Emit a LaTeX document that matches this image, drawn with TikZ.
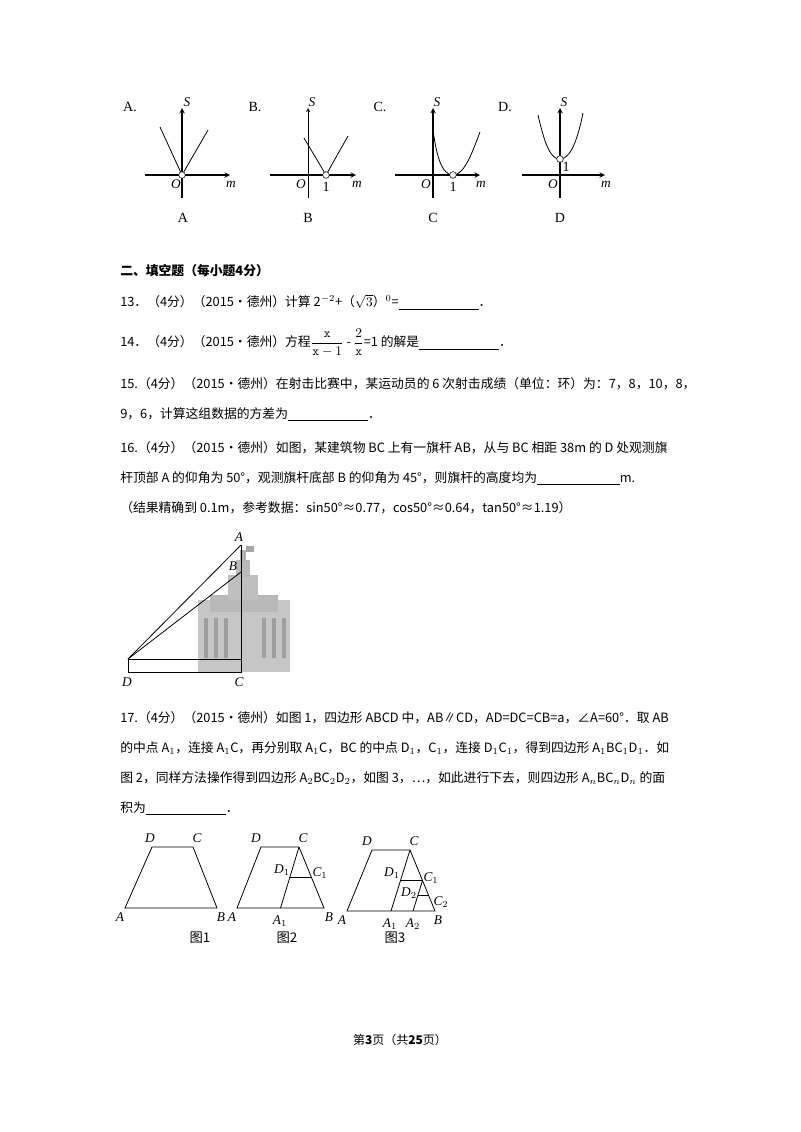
\documentclass[tikz,border=0pt]{standalone}
\usepackage{fontspec}
\setmainfont{Noto Sans CJK SC}
\newfontfamily\ser{Liberation Serif}
\usetikzlibrary{calc}
\tikzset{ax/.style={thick,-stealth},crv/.style={semithick},
 txt/.style={anchor=west,inner sep=0pt,font=\fontsize{9.6}{12}\selectfont},
 lab/.style={inner sep=1pt,font=\ser\itshape\fontsize{10}{12}\selectfont},
 opt/.style={inner sep=0pt,font=\ser\fontsize{10.5}{12}\selectfont},
 figcap/.style={inner sep=0pt,font=\fontsize{10}{12}\selectfont},
 geo/.style={semithick},
 dot/.style={circle,draw,fill=white,inner sep=0pt,minimum size=5pt}}
\newcommand{\blank}[1]{\rule[-2pt]{#1}{0.5pt}}
\begin{document}
\begin{tikzpicture}[x=0.75pt,y=-0.75pt]
\useasboundingbox (0,0) rectangle (800,1132);
% ---- option graphs
\node[opt] (la) at (130,107) {A.};
\node[opt] (lb) at (255,107) {B.};
\node[opt] (lc) at (380,107) {C.};
\node[opt] (ld) at (505,107) {D.};
% A
\draw[ax] (145,175)--(230,175); \draw[ax] (182,198)--(182,108);
\draw[crv] (160,127)--(182,175)--(208,130);
\node[dot] (pa) at (182,175) {};
\node[lab] at (187,102) {S}; \node[lab] at (176,184) {O}; \node[lab] at (231,184) {m};
\node[opt] at (183,218) {A};
% B
\draw[ax] (270,175)--(356,175); \draw[thin,-stealth] (308,198)--(308,108);
\draw[crv] (304,138)--(326,175)--(348,136);
\node[dot] (pb) at (326,175) {};
\node[lab] at (312,102) {S}; \node[lab] at (301,184) {O}; \node[lab] at (357,184) {m};
\node[opt] at (326,187) {1};
\node[opt] at (308,218) {B};
% C
\draw[ax] (395,175)--(480,175); \draw[ax] (433,198)--(433,108);
\draw[crv] (433,130) .. controls (437,160) and (443,175) .. (453,175) .. controls (465,175) and (473,150) .. (480,132);
\node[dot] (pc) at (453,175) {};
\node[lab] at (437,102) {S}; \node[lab] at (426,184) {O}; \node[lab] at (481,184) {m};
\node[opt] at (453,187) {1};
\node[opt] at (433,218) {C};
% D
\draw[ax] (522,175)--(605,175); \draw[ax] (560,198)--(560,108);
\draw[crv] (538,115) .. controls (546,150) and (552,159) .. (560,159) .. controls (568,159) and (576,148) .. (583,113);
\node[dot] (pd) at (560,159) {};
\node[lab] at (564,102) {S}; \node[lab] at (553,184) {O}; \node[lab] at (606,184) {m};
\node[opt] at (566,167) {1};
\node[opt] at (560,218) {D};
% ---- text
\node[txt,font=\bfseries\fontsize{9.6}{12}\selectfont] (h) at (120,271) {二、填空题（每小题4分）};
\node[txt] (q13) at (120,302) {13．（4分）（2015•德州）计算 2$^{-2}$+（$\sqrt{3}$）$^{0}$=\blank{60pt}．};
\node[txt] (q14) at (120,343) {14．（4分）（2015•德州）方程$\displaystyle\frac{\mathtt{x}}{\mathtt{x}-1}$ - $\displaystyle\frac{2}{\mathtt{x}}$=1 的解是\blank{60pt}．};
\node[txt] (q15) at (120,384) {15.（4分）（2015•德州）在射击比赛中，某运动员的 6 次射击成绩（单位：环）为：7，8，10，8，};
\node[txt] (q15b) at (120,414) {9，6，计算这组数据的方差为\blank{60pt}．};
\node[txt] (q16) at (120,448) {16.（4分）（2015•德州）如图，某建筑物 BC 上有一旗杆 AB，从与 BC 相距 38m 的 D 处观测旗};
\node[txt] (q16b) at (120,478) {杆顶部 A 的仰角为 50°，观测旗杆底部 B 的仰角为 45°，则旗杆的高度均为\blank{62pt}m.};
\node[txt] (q16c) at (120,508) {（结果精确到 0.1m，参考数据：sin50°≈0.77，cos50°≈0.64，tan50°≈1.19）};
% ---- building figure
\fill[gray!45] (198,600) rectangle (290,672);
\fill[gray!55] (210,595) rectangle (278,612);
\fill[gray!50] (228,575) rectangle (258,600);
\fill[gray!55] (236,560) rectangle (250,577);
\fill[gray!60] (240,550) rectangle (246,562);
\foreach \xx in {204,214,224,262,272,282} \fill[gray!75] (\xx,618) rectangle ++(4,40);
\fill[gray!70] (246,546) rectangle (254,552);
\coordinate (D) at (128,659);
\coordinate (C) at (241,672);
\coordinate (A) at (241,545);
\coordinate (B) at (241,572);
\draw[geo] (D) rectangle (C);
\draw[geo] (D)--(A); \draw[geo] (D)--(B); \draw[geo] (A)--(C);
\node[lab] at (239,537) {A}; \node[lab] at (233,566) {B};
\node[lab] at (127,682) {D}; \node[lab] at (239,682) {C};
% ---- q17 text
\node[txt] (q17) at (120,718) {17.（4分）（2015•德州）如图 1，四边形 ABCD 中，AB∥CD，AD=DC=CB=a，∠A=60°．取 AB};
\node[txt] (q17b) at (120,748) {的中点 A$_1$，连接 A$_1$C，再分别取 A$_1$C，BC 的中点 D$_1$，C$_1$，连接 D$_1$C$_1$，得到四边形 A$_1$BC$_1$D$_1$．如};
\node[txt] (q17c) at (120,778) {图 2，同样方法操作得到四边形 A$_2$BC$_2$D$_2$，如图 3，…，如此进行下去，则四边形 A$_n$BC$_n$D$_n$ 的面};
\node[txt] (q17d) at (120,808) {积为\blank{60pt}．};
% fig1
\coordinate (a1) at (125,908); \coordinate (b1) at (217,908);
\coordinate (c1) at (193,847); \coordinate (d1) at (152,847);
\draw[geo] (a1)--(b1)--(c1)--(d1)--cycle;
\node[lab] at (120,917) {A}; \node[lab] at (221,917) {B};
\node[lab] at (150,838) {D}; \node[lab] at (197,838) {C};
% fig2
\coordinate (a2) at (237,908); \coordinate (b2) at (324,908);
\coordinate (c2) at (299,847); \coordinate (d2) at (261,847);
\coordinate (A21) at ($(a2)!0.5!(b2)$);
\coordinate (D21) at ($(A21)!0.5!(c2)$);
\coordinate (C21) at ($(b2)!0.5!(c2)$);
\draw[geo] (a2)--(b2)--(c2)--(d2)--cycle;
\draw[geo] (A21)--(c2); \draw[geo] (D21)--(C21);
\node[lab] at (232,917) {A}; \node[lab] at (329,917) {B};
\node[lab] at (256,838) {D}; \node[lab] at (303,838) {C};
\node[lab] at (280,921) {A$_1$}; \node[lab] at (282,870) {D$_1$}; \node[lab] at (320,873) {C$_1$};
% fig3
\coordinate (a3) at (347,911); \coordinate (b3) at (435,911);
\coordinate (c3) at (410,850); \coordinate (d3) at (372,850);
\coordinate (A31) at ($(a3)!0.5!(b3)$);
\coordinate (D31) at ($(A31)!0.5!(c3)$);
\coordinate (C31) at ($(b3)!0.5!(c3)$);
\coordinate (A32) at ($(A31)!0.5!(b3)$);
\coordinate (D32) at ($(A32)!0.5!(C31)$);
\coordinate (C32) at ($(b3)!0.5!(C31)$);
\draw[geo] (a3)--(b3)--(c3)--(d3)--cycle;
\draw[geo] (A31)--(c3); \draw[geo] (D31)--(C31);
\draw[geo] (A32)--(C31); \draw[geo] (D32)--(C32);
\node[lab] at (342,920) {A}; \node[lab] at (438,920) {B};
\node[lab] at (367,841) {D}; \node[lab] at (414,841) {C};
\node[lab] at (390,924) {A$_1$}; \node[lab] at (413,924) {A$_2$};
\node[lab] at (392,873) {D$_1$}; \node[lab] at (431,878) {C$_1$};
\node[lab] at (409,893) {D$_2$}; \node[lab] at (441,902) {C$_2$};
\node[figcap] at (200,938) {图1}; \node[figcap] at (287,938) {图2}; \node[figcap] at (395,938) {图3};
% footer
\node[figcap,font=\fontsize{9}{11}\selectfont] (ft) at (400,1040) {第\textbf{3}页（共\textbf{25}页）};
\end{tikzpicture}
\end{document}
